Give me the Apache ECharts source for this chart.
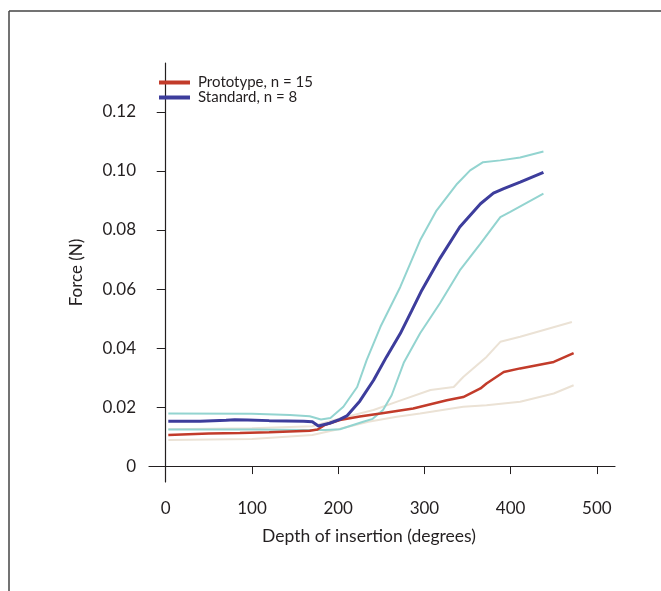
<!DOCTYPE html>
<html>
<head>
<meta charset="utf-8">
<script src="https://cdn.jsdelivr.net/npm/echarts@6/dist/echarts.min.js"></script>
<style>html,body{margin:0;padding:0;background:#fff}#c{width:661px;height:591px}</style>
</head>
<body>
<div id="c"></div>
<script>
// ---- data ----
const yTicks = [0, 0.02, 0.04, 0.06, 0.08, 0.10, 0.12];
const xTicks = [0, 100, 200, 300, 400, 500];

const stdMeanDeg = [3, 40, 70, 80, 95, 120, 160, 170, 177, 190, 202, 210, 225, 241, 256, 272, 285, 297, 318, 341, 365, 380, 392, 411, 438];
const stdMean    = [0.0152, 0.0152, 0.0155, 0.0157, 0.0156, 0.0154, 0.0152, 0.0150, 0.0136, 0.0145, 0.0158, 0.0170, 0.0220, 0.0291, 0.0370, 0.0449, 0.0525, 0.0596, 0.0704, 0.0810, 0.0889, 0.0925, 0.0940, 0.0962, 0.0995];

const stdUpperDeg = [3, 100, 144, 167, 180, 191, 206, 222, 233, 249, 272, 295, 314, 338, 353, 368, 388, 411, 438];
const stdUpper    = [0.0178, 0.0177, 0.0173, 0.0169, 0.0158, 0.0163, 0.0201, 0.0268, 0.0359, 0.0472, 0.0607, 0.0765, 0.0866, 0.0957, 0.1002, 0.1030, 0.1036, 0.1046, 0.1066];

const stdLowerDeg = [3, 100, 167, 185, 202, 229, 240, 252, 262, 276, 295, 318, 341, 365, 388, 399, 438];
const stdLower    = [0.0124, 0.0124, 0.0122, 0.0122, 0.0125, 0.0150, 0.0160, 0.0190, 0.0240, 0.0350, 0.0450, 0.0552, 0.0663, 0.0754, 0.0844, 0.0861, 0.0923];

const protoMeanDeg = [3, 50, 86, 120, 167, 176, 185, 202, 225, 249, 287, 326, 345, 365, 372, 392, 411, 450, 473];
const protoMean    = [0.0105, 0.0110, 0.0112, 0.0115, 0.0120, 0.0124, 0.0140, 0.0156, 0.0168, 0.0178, 0.0195, 0.0223, 0.0234, 0.0263, 0.0280, 0.0319, 0.0331, 0.0353, 0.0383];

const protoUpperDeg = [3, 100, 170, 200, 241, 270, 307, 334, 345, 372, 388, 411, 471];
const protoUpper    = [0.0125, 0.0128, 0.0135, 0.0160, 0.0190, 0.0220, 0.0258, 0.0268, 0.0302, 0.0370, 0.0421, 0.0438, 0.0488];

const protoLowerDeg = [3, 100, 170, 200, 235, 268, 295, 345, 372, 411, 450, 473];
const protoLower    = [0.0088, 0.0092, 0.0105, 0.0125, 0.0150, 0.0167, 0.0178, 0.0201, 0.0206, 0.0218, 0.0246, 0.0274];

const seriesNames = ['Prototype, n = 15', 'Standard, n = 8'];

// ---- build ----
const pairs = (xs, ys) => xs.map((x, i) => [x, ys[i]]);
const FONT = 'Lato';
const TXT = '#231f20';
const line = (name, xs, ys, color, width, z) => ({
  name, type: 'line', data: pairs(xs, ys), showSymbol: false, symbol: 'none',
  lineStyle: { color, width }, itemStyle: { color }, z, silent: true
});

const chart = echarts.init(document.getElementById('c'), null, { renderer: 'canvas' });
chart.setOption({
  backgroundColor: '#ffffff',
  animation: false,
  grid: { left: 149, right: 46, top: 63, bottom: 109 },
  legend: {
    data: seriesNames, orient: 'vertical', left: 159, top: 75,
    icon: 'rect', itemWidth: 31, itemHeight: 4, itemGap: 0, padding: 0,
    textStyle: { fontFamily: FONT, fontSize: 15, color: TXT, padding: [0, 0, 0, 3] }
  },
  xAxis: {
    type: 'value', min: -19.4, max: 521,
    name: 'Depth of insertion (degrees)', nameLocation: 'middle', nameGap: 45,
    nameTextStyle: { fontFamily: FONT, fontSize: 17.5, color: TXT, padding: [0, 26, 0, 0] },
    axisLine: { show: true, lineStyle: { color: TXT, width: 1.2 } },
    axisTick: { show: true, length: 8, customValues: xTicks, lineStyle: { color: TXT } },
    axisLabel: { customValues: xTicks, fontFamily: FONT, fontSize: 17, color: TXT, margin: 18 },
    splitLine: { show: false }
  },
  yAxis: {
    type: 'value', min: -0.0054, max: 0.1366,
    name: 'Force (N)', nameLocation: 'middle', nameGap: 64,
    nameTextStyle: { fontFamily: FONT, fontSize: 17, color: TXT },
    axisLine: { show: true, lineStyle: { color: TXT, width: 1.2 } },
    axisTick: { show: true, length: 9, customValues: yTicks, lineStyle: { color: TXT } },
    axisLabel: { customValues: yTicks, fontFamily: FONT, fontSize: 17, color: TXT, margin: 13,
      formatter: v => (Math.abs(v) < 1e-9 ? '0' : v.toFixed(2)) },
    splitLine: { show: false }
  },
  series: [
    line('protoUpper', protoUpperDeg, protoUpper, '#ebe2d5', 2, 1),
    line('protoLower', protoLowerDeg, protoLower, '#ebe2d5', 2, 1),
    line('stdUpper', stdUpperDeg, stdUpper, '#93d4d0', 2, 2),
    line('stdLower', stdLowerDeg, stdLower, '#93d4d0', 2, 2),
    line(seriesNames[0], protoMeanDeg, protoMean, '#c23b2a', 2.5, 3),
    line(seriesNames[1], stdMeanDeg, stdMean, '#3d3d9c', 3, 4)
  ],
  graphic: [
    { type: 'line', shape: { x1: 9, y1: 11, x2: 661, y2: 11 }, style: { stroke: '#444', lineWidth: 1.5 } },
    { type: 'line', shape: { x1: 9, y1: 11, x2: 9, y2: 591 }, style: { stroke: '#444', lineWidth: 1.5 } }
  ]
});
</script>
</body>
</html>
